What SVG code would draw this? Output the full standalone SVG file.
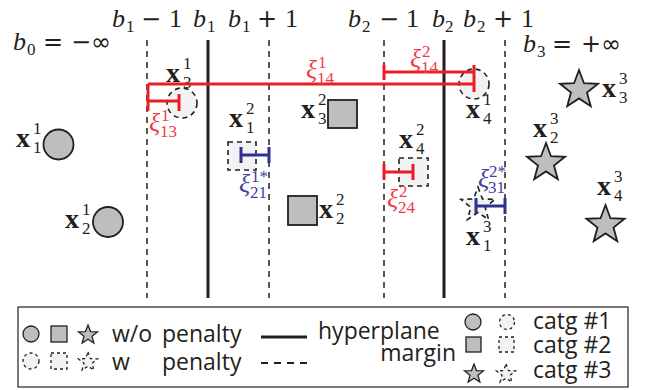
<svg xmlns="http://www.w3.org/2000/svg" width="650" height="390" viewBox="0 0 650 390">
<defs>
<style>
.hp{stroke:#231f20;stroke-width:3;fill:none}
.mg{stroke:#231f20;stroke-width:1.5;stroke-dasharray:6 5;fill:none}
.sol{fill:#bcbec0;stroke:#231f20;stroke-width:1.8}
.pen{fill:#f1f2f2;stroke:#231f20;stroke-width:1.6;stroke-dasharray:5 4}
.rb{stroke:#ed1c24;stroke-width:3;fill:none}
.bb{stroke:#2e3192;stroke-width:3;fill:none}
.m{font-family:"Liberation Serif",serif;font-size:26px;fill:#231f20}
.it{font-style:italic}
.bx{font-weight:bold;font-size:28px}
.sc{font-size:17px;font-style:normal;font-weight:normal}
.op{font-family:"DejaVu Sans",sans-serif;font-size:24px;fill:#231f20}
.rt{fill:#ef3b47}
.bt{fill:#3f41a0}
.xi{font-size:26px}
.lg{font-family:"Open Sans",sans-serif;font-size:23px;fill:#231f20}
.lsol{fill:#bcbec0;stroke:#231f20;stroke-width:1.3}
.lpen{fill:#f1f2f2;stroke:#231f20;stroke-width:1.3;stroke-dasharray:3 3}
</style>
<path id="s20" d="M0,-20 L4.94,-6.8 L19.02,-6.18 L7.99,2.6 L11.76,16.18 L0,8.4 L-11.76,16.18 L-7.99,2.6 L-19.02,-6.18 L-4.94,-6.8Z"/>
<path id="s18" d="M0,-18 L4.44,-6.12 L17.12,-5.56 L7.19,2.34 L10.58,14.56 L0,7.56 L-10.58,14.56 L-7.19,2.34 L-17.12,-5.56 L-4.44,-6.12Z"/>
<path id="s10" d="M0,-10 L2.47,-3.4 L9.51,-3.09 L4,1.3 L5.88,8.09 L0,4.2 L-5.88,8.09 L-4,1.3 L-9.51,-3.09 L-2.47,-3.4Z"/>
</defs>
<rect width="650" height="390" fill="#fff"/>

<g id="planes">
<line class="mg" x1="147" y1="40" x2="147" y2="298"/>
<line class="hp" x1="208" y1="40" x2="208" y2="298"/>
<line class="mg" x1="269" y1="40" x2="269" y2="298"/>
<line class="mg" x1="384" y1="40" x2="384" y2="298"/>
<line class="hp" x1="444" y1="40" x2="444" y2="298"/>
<line class="mg" x1="505" y1="40" x2="505" y2="298"/>
</g>

<g id="plane-labels">
<text class="m"><tspan class="it" x="112" y="27">b</tspan><tspan class="sc" x="126" y="32">1</tspan></text>
<text class="op" x="141" y="27">−</text><text class="m" x="169" y="27">1</text>
<text class="m"><tspan class="it" x="193" y="27">b</tspan><tspan class="sc" x="207" y="32">1</tspan></text>
<text class="m"><tspan class="it" x="228" y="27">b</tspan><tspan class="sc" x="242" y="32">1</tspan></text>
<text class="op" x="257" y="27">+</text><text class="m" x="285" y="27">1</text>
<text class="m"><tspan class="it" x="348" y="27">b</tspan><tspan class="sc" x="362" y="32">2</tspan></text>
<text class="op" x="379" y="27">−</text><text class="m" x="406" y="27">1</text>
<text class="m"><tspan class="it" x="432" y="27">b</tspan><tspan class="sc" x="445" y="32">2</tspan></text>
<text class="m"><tspan class="it" x="463" y="27">b</tspan><tspan class="sc" x="477" y="32">2</tspan></text>
<text class="op" x="493" y="27">+</text><text class="m" x="521" y="27">1</text>
<text class="m"><tspan class="it" x="13" y="50">b</tspan><tspan class="sc" x="27" y="55">0</tspan></text>
<text class="op" x="43" y="50">=</text><text class="op" x="71" y="50">−∞</text>
<text class="m"><tspan class="it" x="523" y="52">b</tspan><tspan class="sc" x="537" y="57">3</tspan></text>
<text class="op" x="552" y="52">=</text><text class="op" x="581" y="52">+∞</text>
</g>

<g id="x1_1"><circle class="sol" cx="58.5" cy="144.5" r="15"/><text class="m"><tspan class="bx" x="16" y="147">x</tspan><tspan class="sc" x="33" y="134">1</tspan><tspan class="sc" x="33" y="153">1</tspan></text></g>
<g id="x2_1"><circle class="sol" cx="108" cy="222" r="15"/><text class="m"><tspan class="bx" x="65" y="228">x</tspan><tspan class="sc" x="82" y="215">1</tspan><tspan class="sc" x="82" y="234">2</tspan></text></g>
<g id="x3_1"><circle class="pen" cx="182" cy="103" r="15"/><text class="m"><tspan class="bx" x="166" y="82">x</tspan><tspan class="sc" x="183" y="69">1</tspan><tspan class="sc" x="183" y="88">3</tspan></text></g>
<g id="x4_1"><circle class="pen" cx="474" cy="84" r="15"/><text class="m"><tspan class="bx" x="466" y="118">x</tspan><tspan class="sc" x="483" y="105">1</tspan><tspan class="sc" x="483" y="124">4</tspan></text></g>
<g id="x1_2"><rect class="pen" x="228" y="142" width="28" height="28"/><text class="m"><tspan class="bx" x="229" y="127">x</tspan><tspan class="sc" x="246" y="114">2</tspan><tspan class="sc" x="246" y="133">1</tspan></text></g>
<g id="x2_2"><rect class="sol" x="288" y="196" width="29" height="29"/><text class="m"><tspan class="bx" x="319" y="218">x</tspan><tspan class="sc" x="336" y="205">2</tspan><tspan class="sc" x="336" y="224">2</tspan></text></g>
<g id="x3_2"><rect class="sol" x="328" y="100" width="29" height="28"/><text class="m"><tspan class="bx" x="301" y="118">x</tspan><tspan class="sc" x="318" y="105">2</tspan><tspan class="sc" x="318" y="124">3</tspan></text></g>
<g id="x4_2"><rect class="pen" x="399" y="158" width="29" height="28"/><text class="m"><tspan class="bx" x="399" y="148">x</tspan><tspan class="sc" x="416" y="135">2</tspan><tspan class="sc" x="416" y="154">4</tspan></text></g>
<g id="x1_3"><use href="#s18" class="pen" x="478" y="205"/><text class="m"><tspan class="bx" x="466" y="245">x</tspan><tspan class="sc" x="483" y="232">3</tspan><tspan class="sc" x="483" y="251">1</tspan></text></g>
<g id="x2_3"><use href="#s20" class="sol" x="546" y="163"/><text class="m"><tspan class="bx" x="533" y="137">x</tspan><tspan class="sc" x="550" y="124">3</tspan><tspan class="sc" x="550" y="143">2</tspan></text></g>
<g id="x3_3"><use href="#s20" class="sol" x="579" y="90"/><text class="m"><tspan class="bx" x="602" y="97">x</tspan><tspan class="sc" x="619" y="84">3</tspan><tspan class="sc" x="619" y="103">3</tspan></text></g>
<g id="x4_3"><use href="#s20" class="sol" x="605.5" y="225"/><text class="m"><tspan class="bx" x="597" y="195">x</tspan><tspan class="sc" x="614" y="182">3</tspan><tspan class="sc" x="614" y="201">4</tspan></text></g>

<g id="connectors">
<path class="rb" d="M148,84H474M148,84V111M474,65V92"/>
<path class="rb" d="M384,72H474M384,65V80"/>
<path class="rb" d="M148,101H179M179,94V111"/>
<path class="rb" d="M384,172H413M384,164V180M413,164V180"/>
<path class="bb" d="M241,155H269M241,147V163M269,147V163"/>
<path class="bb" d="M476,206H505M476,198V214M505,198V214"/>
</g>

<g id="slack-labels">
<text class="m rt"><tspan class="it xi" x="306" y="78">ξ</tspan><tspan class="sc" x="318" y="68">1</tspan><tspan class="sc" x="317" y="84">14</tspan></text>
<text class="m rt"><tspan class="it xi" x="410" y="67">ξ</tspan><tspan class="sc" x="422" y="57">2</tspan><tspan class="sc" x="421" y="73">14</tspan></text>
<text class="m rt"><tspan class="it xi" x="149" y="131">ξ</tspan><tspan class="sc" x="161" y="121">1</tspan><tspan class="sc" x="160" y="137">13</tspan></text>
<text class="m rt"><tspan class="it xi" x="387" y="207">ξ</tspan><tspan class="sc" x="399" y="197">2</tspan><tspan class="sc" x="398" y="213">24</tspan></text>
<text class="m bt"><tspan class="it xi" x="239" y="192">ξ</tspan><tspan class="sc" x="251" y="182">1*</tspan><tspan class="sc" x="250" y="198">21</tspan></text>
<text class="m bt"><tspan class="it xi" x="478" y="187">ξ</tspan><tspan class="sc" x="489" y="177">2*</tspan><tspan class="sc" x="488" y="193">31</tspan></text>
</g>

<g id="legend">
<rect x="18" y="307" width="610" height="80" fill="#fff" stroke="#231f20" stroke-width="1.2"/>
<circle class="lsol" cx="31" cy="334" r="8"/>
<rect class="lsol" x="51" y="326" width="16" height="16"/>
<use href="#s10" class="lsol" x="88" y="335"/>
<circle class="lpen" cx="31" cy="361" r="8"/>
<rect class="lpen" x="51" y="353" width="16" height="16"/>
<use href="#s10" class="lpen" x="88" y="362"/>
<text class="lg" x="112" y="342">w/o</text><text class="lg" x="162" y="342">penalty</text>
<text class="lg" x="112" y="370">w</text><text class="lg" x="162" y="370">penalty</text>
<line x1="261" y1="337" x2="307" y2="337" stroke="#231f20" stroke-width="3"/>
<line x1="261" y1="363" x2="307" y2="363" stroke="#231f20" stroke-width="2" stroke-dasharray="7 6"/>
<text class="lg" x="318" y="339">hyperplane</text>
<text class="lg" x="456" y="361" text-anchor="end">margin</text>
<circle class="lsol" cx="473" cy="322" r="8"/>
<circle class="lpen" cx="507" cy="322" r="7.5"/>
<text class="lg" x="533" y="329">catg #1</text>
<rect class="lsol" x="466" y="337" width="15" height="15"/>
<rect class="lpen" x="499" y="337" width="15" height="15"/>
<text class="lg" x="533" y="353">catg #2</text>
<use href="#s10" class="lsol" x="474" y="374"/>
<use href="#s10" class="lpen" x="506" y="374"/>
<text class="lg" x="533" y="378">catg #3</text>
</g>
</svg>
